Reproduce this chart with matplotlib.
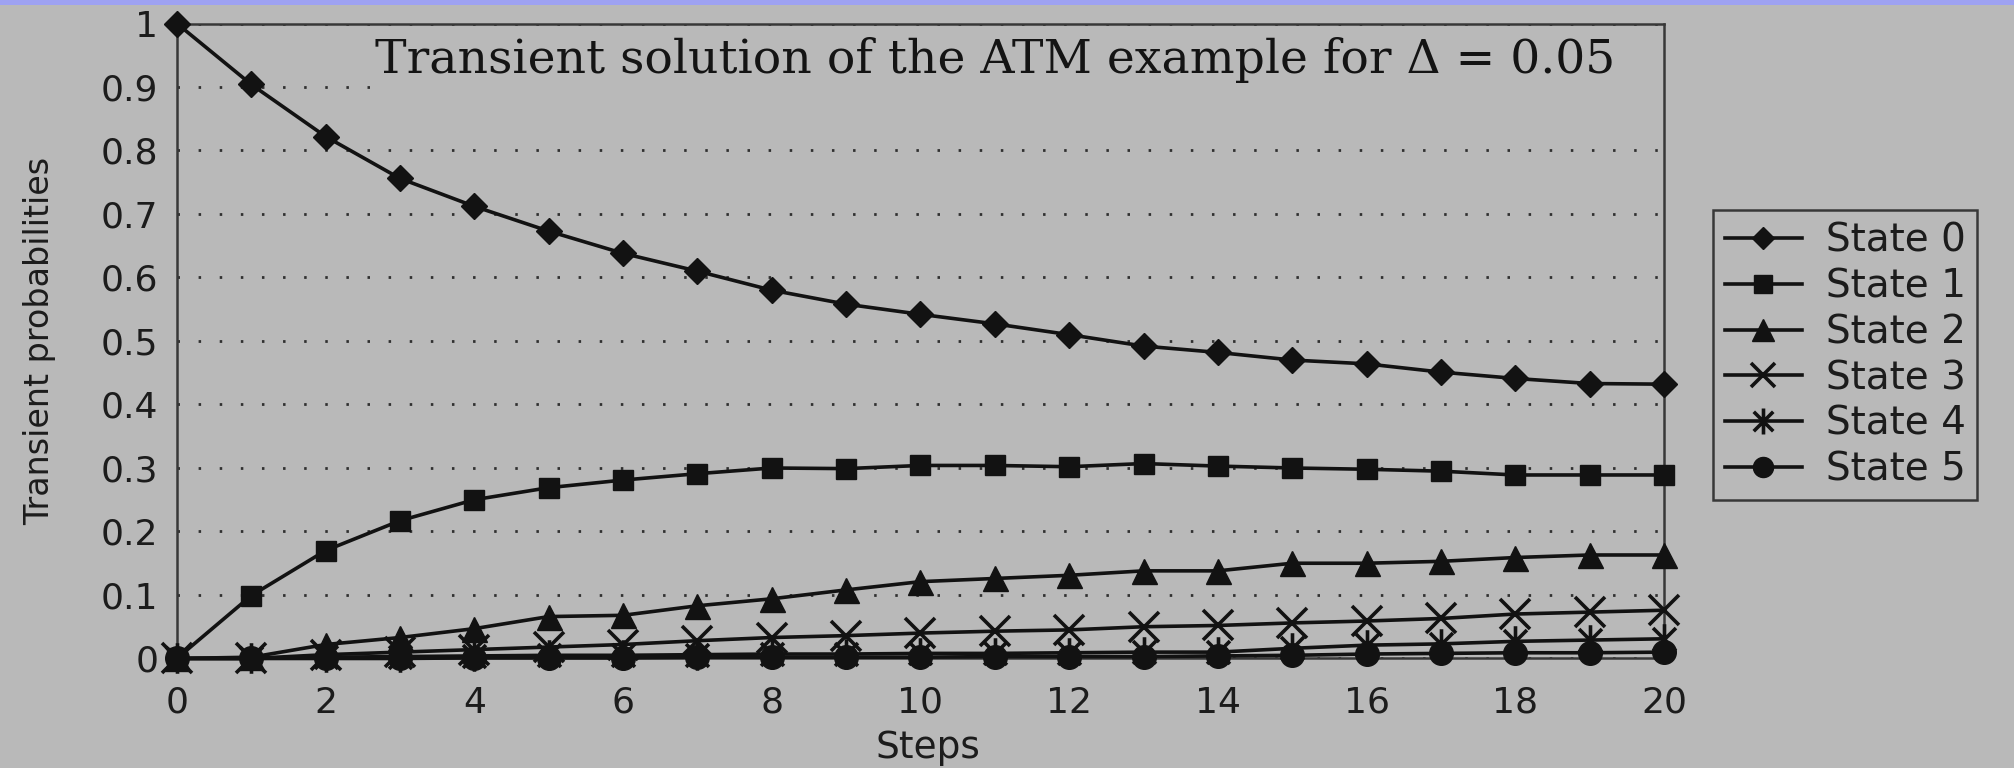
"""
Transient solution of the ATM example, redrawn from a scanned slide.
"""

import matplotlib
matplotlib.use("Agg")
import matplotlib.pyplot as plt
from matplotlib.path import Path
from matplotlib.patches import Rectangle

# Data
steps = list(range(21))
state0 = [1.0, 0.904, 0.822, 0.756, 0.712, 0.673, 0.638, 0.610, 0.580, 0.558, 0.542,
          0.527, 0.510, 0.492, 0.482, 0.470, 0.464, 0.451, 0.441, 0.433, 0.432]
state1 = [0.0, 0.099, 0.170, 0.217, 0.250, 0.269, 0.281, 0.291, 0.300, 0.299, 0.304,
          0.304, 0.302, 0.307, 0.303, 0.300, 0.298, 0.295, 0.289, 0.289, 0.289]
state2 = [0.0, 0.002, 0.022, 0.033, 0.047, 0.066, 0.068, 0.083, 0.094, 0.108, 0.121,
          0.126, 0.131, 0.138, 0.138, 0.150, 0.150, 0.153, 0.159, 0.163, 0.163]
state3 = [0.0, 0.0, 0.006, 0.010, 0.014, 0.018, 0.022, 0.028, 0.033, 0.036, 0.040,
          0.043, 0.045, 0.050, 0.052, 0.056, 0.059, 0.063, 0.070, 0.073, 0.076]
state4 = [0.0, 0.0, 0.002, 0.003, 0.004, 0.005, 0.005, 0.006, 0.007, 0.007, 0.008,
          0.008, 0.009, 0.010, 0.010, 0.016, 0.021, 0.023, 0.027, 0.029, 0.031]
state5 = [0.0, 0.0, 0.0, 0.0, 0.001, 0.001, 0.001, 0.002, 0.002, 0.002, 0.002,
          0.003, 0.003, 0.003, 0.004, 0.005, 0.007, 0.008, 0.009, 0.009, 0.010]

labels = ["State 0", "State 1", "State 2", "State 3", "State 4", "State 5"]
x_ticks = list(range(0, 21, 2))
y_ticks = [0, 0.1, 0.2, 0.3, 0.4, 0.5, 0.6, 0.7, 0.8, 0.9, 1]
y_tick_labels = ["0", "0.1", "0.2", "0.3", "0.4", "0.5", "0.6", "0.7", "0.8", "0.9", "1"]

# Styling
bg = "#b9b9b9"
ink = "#121212"
txt = "#1c1c1c"
plt.rcParams["font.family"] = ["DejaVu Sans"]

# Excel-like star: an X with a vertical bar
star = Path([(0, -1), (0, 1), (-0.75, -0.75), (0.75, 0.75), (-0.75, 0.75), (0.75, -0.75)],
            [Path.MOVETO, Path.LINETO] * 3)
markers = [("D", 13, 1), ("s", 14.5, 1), ("^", 18, 1), ("x", 21, 2.6), (star, 22, 2.6), ("o", 17, 1)]

fig = plt.figure(figsize=(20.15, 7.68), dpi=100, facecolor=bg)
ax = fig.add_axes([0.0878, 0.1426, 0.738, 0.8268])
ax.set_facecolor(bg)

# slide stripe at the top
fig.patches.append(Rectangle((0, 0.994), 1, 0.006, transform=fig.transFigure,
                             fc="#9ea2f2", ec="none"))

all_states = [state0, state1, state2, state3, state4, state5]
for i, vals in enumerate(all_states):
    m, ms, mew = markers[i]
    ax.plot(steps, vals, color=ink, lw=2.6, marker=m, markersize=ms,
            markeredgewidth=mew, markerfacecolor=ink, markeredgecolor=ink,
            label=labels[i], clip_on=False, zorder=3 + i)

ax.set_xlim(0, 20)
ax.set_ylim(0, 1)
ax.set_xticks(x_ticks)
ax.set_yticks(y_ticks)
ax.set_yticklabels(y_tick_labels)
ax.tick_params(axis="x", length=0, pad=19.5, labelsize=26, colors=txt)
ax.tick_params(axis="y", length=0, pad=13.5, labelsize=26, colors=txt)

ax.set_axisbelow(True)
ax.yaxis.grid(True, color="#303030", linestyle=(0, (0.9, 6.7)), lw=2.0)
ax.xaxis.grid(False)

for side in ["left", "top", "right", "bottom"]:
    ax.spines[side].set_color("#383838")
    ax.spines[side].set_linewidth(1.8)

# the title box hides the top gridline
ax.add_patch(Rectangle((0.13, 0.865), 0.868, 0.13, transform=ax.transAxes,
                       fc=bg, ec="none", zorder=1.5))
fig.text(375 / 2015, 1 - 73 / 768, "Transient solution of the ATM example for \u0394 = 0.05",
         family="DejaVu Serif", fontsize=34, color="#141414", ha="left", va="baseline")

ax.set_ylabel("Transient probabilities", fontsize=24, color=txt)
ax.yaxis.set_label_coords(-0.081, 0.5)
ax.set_xlabel("Steps", fontsize=27, color=txt, va="baseline")
ax.xaxis.set_label_coords(0.505, -0.157)

leg = ax.legend(loc="upper left", bbox_to_anchor=(1713 / 2015, 1 - 210 / 768),
                bbox_transform=fig.transFigure, borderaxespad=0, fontsize=28,
                handlelength=1.98, handletextpad=0.62, labelspacing=0.2,
                borderpad=0.3, fancybox=False, framealpha=1, markerscale=0.85)
leg.get_frame().set_facecolor(bg)
leg.get_frame().set_edgecolor("#383838")
leg.get_frame().set_linewidth(1.8)
for t in leg.get_texts():
    t.set_color(txt)

plt.savefig("out.png", dpi=100, facecolor=bg)
